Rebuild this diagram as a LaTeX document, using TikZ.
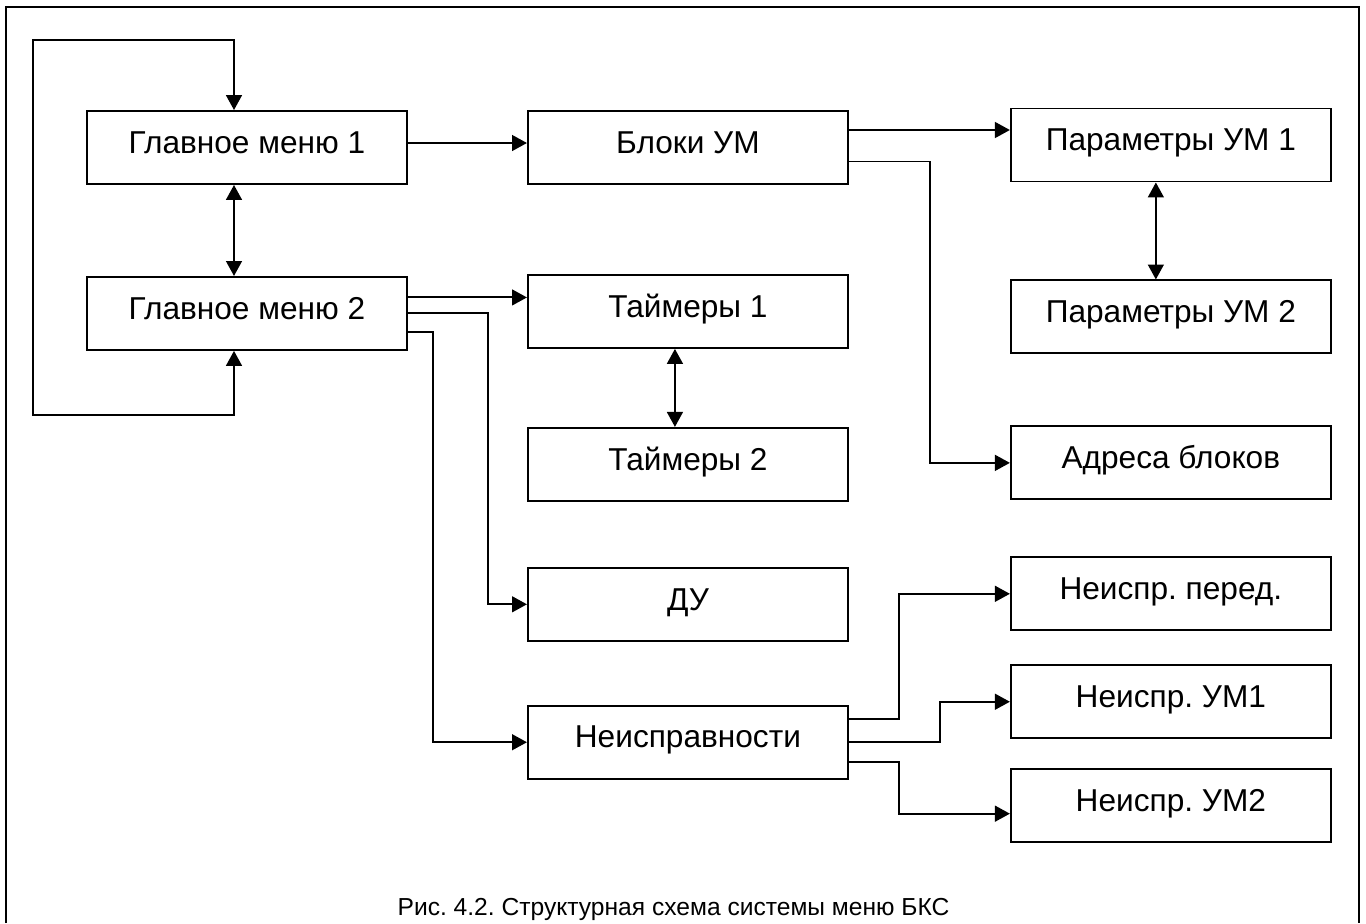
\documentclass[tikz,border=0pt]{standalone}
\usepackage{fontspec}
\setmainfont{Liberation Sans}
\frenchspacing
\usetikzlibrary{arrows.meta,positioning}
\tikzstyle{menubox} = [rectangle, minimum width=6.4cm, minimum height=1.46cm, text centered, draw=black, line width=1.1pt, font=\fontsize{18}{22}\selectfont, text height=13pt, text depth=6.5pt]
\tikzstyle{arrow} = [line width=1.1pt,-{Triangle[length=8.5pt,width=9pt]}]
\tikzstyle{dblarrow} = [line width=1.1pt,{Triangle[length=8.5pt,width=9pt]}-{Triangle[length=8.5pt,width=9pt]}]
\tikzstyle{wire} = [line width=1.1pt]

\begin{document}
\begin{tikzpicture}
	\useasboundingbox (0,0) rectangle (27.32,-18.46);
	\draw [wire] (0.12,-18.46) -- (0.12,-0.14) -- (27.18,-0.14) -- (27.18,-18.46);
	\node (gm1) [menubox] at (4.94,-2.95) {Главное меню 1};
	\node (gm2) [menubox, below=1.82cm of gm1] {Главное меню 2};
	\node (bloki) [menubox, right=2.38cm of gm1] {Блоки УМ};
	\node (par1) [menubox, right=3.22cm of bloki, yshift=0.05cm] {Параметры УМ 1};
	\node (par2) [menubox, below=1.94cm of par1] {Параметры УМ 2};
	\node (adr) [menubox, below=1.42cm of par2] {Адреса блоков};
	\node (np) [menubox, below=1.12cm of adr] {Неиспр. перед.};
	\node (nu1) [menubox, below=0.66cm of np] {Неиспр. УМ1};
	\node (nu2) [menubox, below=0.58cm of nu1] {Неиспр. УМ2};
	\node (tim1) [menubox, below=1.78cm of bloki] {Таймеры 1};
	\node (tim2) [menubox, below=1.56cm of tim1] {Таймеры 2};
	\node (du) [menubox, below=1.3cm of tim2] {ДУ};
	\node (neisp) [menubox, below=1.26cm of du] {Неисправности};
	\node (caption) [font=\fontsize{14}{16}\selectfont, anchor=base] at (13.47,-18.3) {Рис. 4.2. Структурная схема системы меню БКС};
	% loop round the two main menus
	\coordinate (lpb) at (0.66,-8.3);
	\coordinate (lpt) at (0.66,-0.8);
	\draw [dblarrow] ([xshift=-0.26cm]gm2.south) |- (lpb) -- (lpt) -| ([xshift=-0.26cm]gm1.north);
	\draw [dblarrow] ([xshift=-0.26cm]gm1.south) -- ([xshift=-0.26cm]gm2.north);
	\draw [arrow] ([yshift=0.09cm]gm1.east) -- ([yshift=0.09cm]bloki.west);
	\draw [arrow] ([yshift=0.35cm]bloki.east) coordinate (b1) -- (b1 -| par1.west);
	\draw [arrow] ([yshift=-0.28cm]bloki.east) -- ++(1.62cm,0) |- (adr.west);
	\draw [dblarrow] ([xshift=-0.3cm]par1.south) -- ([xshift=-0.3cm]par2.north);
	\draw [arrow] ([yshift=0.32cm]gm2.east) coordinate (g1) -- (g1 -| tim1.west);
	\draw [arrow] (gm2.east) -- ++(1.6cm,0) |- (du.west);
	\draw [arrow] ([yshift=-0.38cm]gm2.east) -- ++(0.5cm,0) |- (neisp.west);
	\draw [dblarrow] ([xshift=-0.26cm]tim1.south) -- ([xshift=-0.26cm]tim2.north);
	\draw [arrow] ([yshift=0.46cm]neisp.east) -- ++(1.0cm,0) |- (np.west);
	\draw [arrow] (neisp.east) -- ++(1.82cm,0) |- (nu1.west);
	\draw [arrow] ([yshift=-0.4cm]neisp.east) -- ++(1.0cm,0) |- ([yshift=-0.16cm]nu2.west);
	%\draw [wire] (0.12,-18.46) -- (27.18,-18.46);
\end{tikzpicture}
\end{document}
